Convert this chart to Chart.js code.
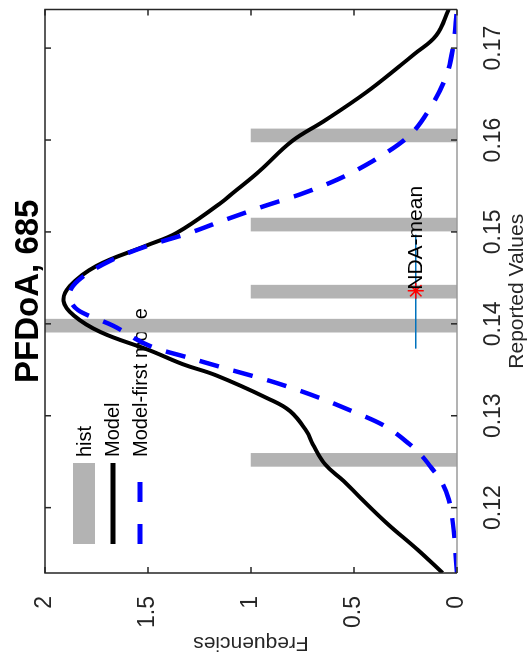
<!doctype html>
<html>
  <head>
    <meta charset="utf-8">
    <title>PFDoA, 685</title>
    <style>
      html, body {
        margin: 0;
        padding: 0;
        background: #fff;
        overflow: hidden;
      }
      /* the figure is drawn in its normal orientation and turned a quarter turn */
      #wrap {
        position: absolute;
        left: 0;
        top: 0;
        width: 664px;
        height: 530px;
        transform-origin: 0 0;
        transform: translate(0px, 664px) rotate(-90deg);
      }
    </style>
  </head>
  <body>
    <div id="wrap"><canvas id="canvas" width="664" height="530"></canvas></div>

    <script src="https://cdn.jsdelivr.net/npm/chart.js@4/dist/chart.umd.min.js"></script>
    <script>
      var titleText = 'PFDoA, 685'

      // histogram bars
      var histX = [0.1252, 0.1398, 0.1435, 0.1508, 0.1605]
      var histY = [1, 2, 1, 1, 1]

      // model curve (black)
      var modelX = [0.1129, 0.1154, 0.1183, 0.1211, 0.1229, 0.1247, 0.1269, 0.1283, 0.1305, 0.1319,
                    0.1344, 0.1356, 0.1371, 0.1391, 0.1409, 0.1425, 0.1441, 0.1463, 0.1485, 0.1499,
                    0.1531, 0.1542, 0.1566, 0.1599, 0.1620, 0.1652, 0.1682, 0.1693, 0.1714, 0.1742]
      var modelY = [0.07, 0.19, 0.34, 0.47, 0.55, 0.64, 0.70, 0.73, 0.81, 0.92,
                    1.17, 1.33, 1.49, 1.73, 1.86, 1.91, 1.88, 1.75, 1.51, 1.36,
                    1.15, 1.09, 0.96, 0.80, 0.65, 0.44, 0.27, 0.21, 0.10, 0.04]

      // model, first mode only (blue dashed)
      var firstModeX = [0.1129, 0.1160, 0.1183, 0.1209, 0.1226, 0.1245, 0.1261, 0.1269, 0.1290, 0.1306,
                        0.1323, 0.1338, 0.1350, 0.1363, 0.1374, 0.1398, 0.1415, 0.1433, 0.1447, 0.1469,
                        0.1485, 0.1498, 0.1512, 0.1527, 0.1541, 0.1557, 0.1577, 0.1603, 0.1635, 0.1671,
                        0.1700, 0.1742]
      var firstModeY = [0.00, 0.01, 0.02, 0.04, 0.07, 0.13, 0.19, 0.23, 0.36, 0.52,
                        0.71, 0.91, 1.10, 1.30, 1.47, 1.67, 1.84, 1.88, 1.84, 1.68,
                        1.50, 1.31, 1.14, 0.95, 0.76, 0.58, 0.41, 0.24, 0.13, 0.05,
                        0.02, 0.00]

      // NDA mean and its range
      var ndaMean = 0.1436
      var ndaLevel = 0.2
      var ndaRange = [0.1373, 0.1497]

      var xMin = 0.11289
      var xMax = 0.1742
      var xTicks = [0.12, 0.13, 0.14, 0.15, 0.16, 0.17]
      var xTickLabels = ['0.12', '0.13', '0.14', '0.15', '0.16', '0.17']
      var yTicks = [0, 0.5, 1, 1.5, 2]
      var yTickLabels = ['0', '0.5', '1', '1.5', '2']

      var legendLabels = ['hist', 'Model', 'Model-first mode']

      var FONT = '"Liberation Sans", Arial, Helvetica, sans-serif'
      var AXIS = '#262626'
      var HIST_GRAY = '#b3b3b3'

      var pairs = function(xs, ys) {
        return xs.map(function(x, i) { return {x: x, y: ys[i]} })
      }

      // box, inward ticks, legend inside the axes, title, text label at the mean
      var matlabBits = {
        id: 'matlabBits',
        beforeDatasetsDraw: function(chart) {
          var ctx = chart.ctx
          ctx.save()
          // hist patch
          ctx.fillStyle = HIST_GRAY
          ctx.fillRect(120, 73, 81, 22)
          // model line
          ctx.strokeStyle = '#000'
          ctx.lineWidth = 5
          ctx.beginPath()
          ctx.moveTo(120, 113)
          ctx.lineTo(201, 113)
          ctx.stroke()
          // first mode dashed
          ctx.strokeStyle = '#0000ff'
          ctx.setLineDash([20, 22])
          ctx.beginPath()
          ctx.moveTo(120, 140)
          ctx.lineTo(201, 140)
          ctx.stroke()
          ctx.setLineDash([])
          ctx.fillStyle = '#000'
          ctx.font = '20px ' + FONT
          ctx.textAlign = 'left'
          ctx.textBaseline = 'middle'
          ctx.fillText(legendLabels[0], 207, 85)
          ctx.fillText(legendLabels[1], 207, 113)
          ctx.fillText(legendLabels[2], 207, 141)
          ctx.restore()
        },
        afterDatasetsDraw: function(chart) {
          var ctx = chart.ctx
          var a = chart.chartArea
          var xs = chart.scales.x
          var ys = chart.scales.y
          ctx.save()
          ctx.lineWidth = 1.5
          // zero line in gray
          ctx.strokeStyle = '#9a9a9a'
          ctx.beginPath()
          ctx.moveTo(a.left, a.bottom)
          ctx.lineTo(a.right, a.bottom)
          ctx.stroke()
          ctx.strokeStyle = AXIS
          ctx.beginPath()
          ctx.moveTo(a.left, a.bottom)
          ctx.lineTo(a.left, a.top)
          ctx.lineTo(a.right, a.top)
          ctx.lineTo(a.right, a.bottom)
          ctx.stroke()
          ctx.beginPath()
          xTicks.forEach(function(v) {
            var px = xs.getPixelForValue(v)
            ctx.moveTo(px, a.bottom)
            ctx.lineTo(px, a.bottom - 6)
            ctx.moveTo(px, a.top)
            ctx.lineTo(px, a.top + 6)
          })
          yTicks.forEach(function(v) {
            var py = ys.getPixelForValue(v)
            ctx.moveTo(a.left, py)
            ctx.lineTo(a.left + 6, py)
            ctx.moveTo(a.right, py)
            ctx.lineTo(a.right - 6, py)
          })
          ctx.stroke()
          // NDA-mean label
          ctx.fillStyle = '#000'
          ctx.font = '21px ' + FONT
          ctx.textAlign = 'left'
          ctx.textBaseline = 'middle'
          ctx.fillText('NDA-mean', xs.getPixelForValue(ndaMean) + 1, ys.getPixelForValue(ndaLevel))
          // title, centred over the axes
          ctx.font = 'bold 33px ' + FONT
          ctx.textAlign = 'center'
          ctx.fillText(titleText, (a.left + a.right) / 2, 29)
          ctx.restore()
        }
      }

      var ctx = document.getElementById('canvas').getContext('2d')
      window.my_chart = new Chart(ctx, {
        type: 'line',
        data: {
          datasets: [
            {
              type: 'bar',
              label: legendLabels[0],
              data: pairs(histX, histY),
              backgroundColor: HIST_GRAY,
              barThickness: 13,
              order: 5
            },
            {
              label: legendLabels[1],
              data: pairs(modelX, modelY),
              borderColor: '#000',
              borderWidth: 4,
              pointRadius: 0,
              tension: 0.4,
              order: 4
            },
            {
              label: legendLabels[2],
              data: pairs(firstModeX, firstModeY),
              borderColor: '#0000ff',
              borderWidth: 4.5,
              borderDash: [20, 15],
              pointRadius: 0,
              cubicInterpolationMode: 'monotone',
              order: 3
            },
            {
              label: 'NDA range',
              data: pairs(ndaRange, [ndaLevel, ndaLevel]),
              borderColor: '#0072BD',
              borderWidth: 1.5,
              pointRadius: 0,
              order: 2
            },
            {
              label: 'NDA-mean',
              data: [{x: ndaMean, y: ndaLevel}],
              showLine: false,
              pointStyle: 'star',
              pointRadius: 8,
              pointBorderColor: '#ff0000',
              pointBorderWidth: 1.5,
              order: 1
            }
          ]
        },
        options: {
          responsive: false,
          animation: false,
          layout: { padding: { left: 0, right: 4, top: 45, bottom: 0 } },
          plugins: {
            legend: { display: false },
            tooltip: { enabled: false },
            title: { display: false }
          },
          scales: {
            x: {
              type: 'linear',
              min: xMin,
              max: xMax,
              offset: false,
              grid: { display: false },
              border: { display: false },
              afterBuildTicks: function(s) {
                s.ticks = xTicks.map(function(v) { return {value: v} })
              },
              ticks: {
                color: AXIS,
                font: { family: FONT, size: 23 },
                padding: 15,
                maxRotation: 0,
                autoSkip: false,
                callback: function(v, i) { return xTickLabels[i] }
              },
              title: {
                display: true,
                text: 'Reported Values',
                color: AXIS,
                font: { family: FONT, size: 21 },
                padding: { top: 0, bottom: 0 }
              },
              afterFit: function(s) { s.height = 73 }
            },
            y: {
              min: 0,
              max: 2,
              grid: { display: false },
              border: { display: false },
              afterBuildTicks: function(s) {
                s.ticks = yTicks.map(function(v) { return {value: v} })
              },
              ticks: {
                color: AXIS,
                font: { family: FONT, size: 23 },
                padding: 15,
                autoSkip: false,
                callback: function(v, i) { return yTickLabels[i] }
              },
              title: {
                display: true,
                text: 'Frequencies',
                color: AXIS,
                font: { family: FONT, size: 21 },
                padding: { top: 9, bottom: 0 }
              },
              afterFit: function(s) { s.width = 91 }
            }
          }
        },
        plugins: [matlabBits]
      })
    </script>
  </body>
</html>
